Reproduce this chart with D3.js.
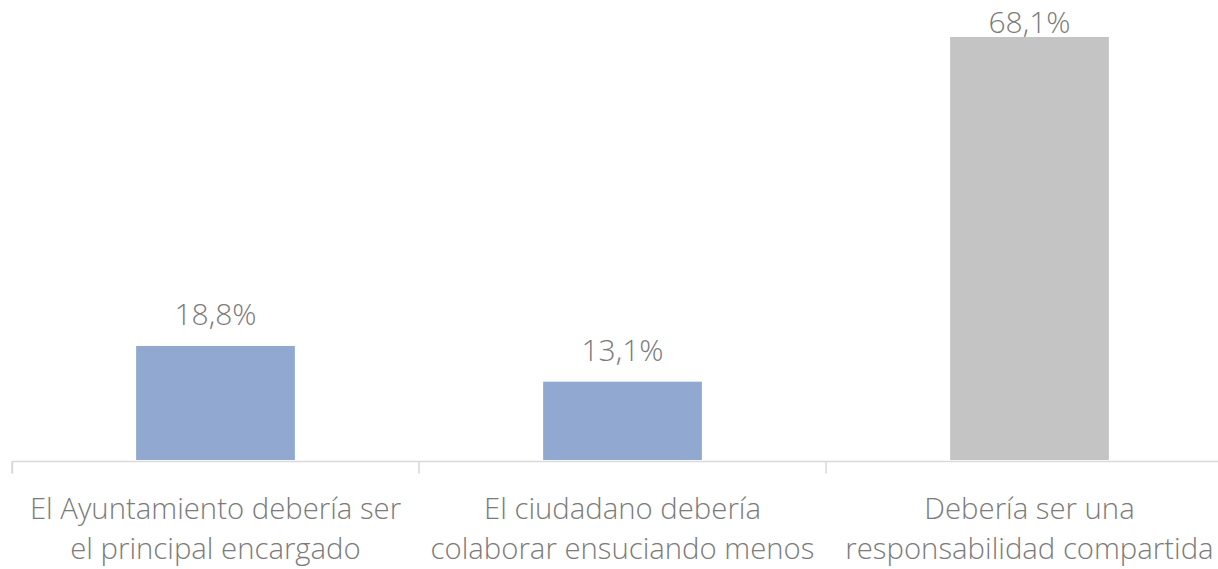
<!DOCTYPE html>
<html>
<head>
<meta charset="utf-8">
<script src="https://cdn.jsdelivr.net/npm/d3@7"></script>
<style>
  body { margin: 0; background: #fff; overflow: hidden; }
  text { font-family: "Open Sans", Lato, sans-serif; font-weight: 300; fill: #7b7b7b; }
</style>
</head>
<body>
<div id="chart"></div>
<script>
// data
var categories = [
  ["El Ayuntamiento debería ser", "el principal encargado"],
  ["El ciudadano debería", "colaborar ensuciando menos"],
  ["Debería ser una", "responsabilidad compartida"]
];
var values = [18.8, 13.1, 68.1];
var barColors = ["#91a8d0", "#91a8d0", "#c4c4c4"];

var width = 1218, height = 569;
var baseY = 460;

var svg = d3.select("#chart")
  .append("svg")
  .attr("width", width)
  .attr("height", height);

// the plot runs past the right edge of the picture, like the original
var x = d3.scaleBand()
  .domain(d3.range(categories.length))
  .range([12, 1233])
  .padding(0);

var y = d3.scaleLinear()
  .domain([0.6, 68.1])
  .range([baseY, 37]);

var barW = x.bandwidth() * 0.39;

// bars
svg.selectAll(".bar")
  .data(values)
  .enter().append("rect")
  .attr("class", "bar")
  .attr("x", (d, i) => x(i) + (x.bandwidth() - barW) / 2)
  .attr("y", d => y(d))
  .attr("width", barW)
  .attr("height", d => baseY - y(d))
  .attr("fill", (d, i) => barColors[i]);

// axis line + ticks
var axis = svg.append("g")
  .attr("transform", "translate(0," + 461.5 + ")")
  .call(d3.axisBottom(x).tickSize(12).tickFormat(""));
axis.select(".domain").attr("stroke", "#d9d9d9").attr("stroke-width", 1.5)
  .attr("d", "M12.5,12V0H1240");
axis.selectAll(".tick line").attr("stroke", "#d9d9d9").attr("stroke-width", 1.5)
  .attr("transform", "translate(" + (-x.bandwidth() / 2) + ",0)");

// value labels
svg.selectAll(".val")
  .data(values)
  .enter().append("text")
  .attr("class", "val")
  .attr("x", (d, i) => x(i) + x.bandwidth() / 2)
  .attr("y", d => Math.max(y(d) - 21, 33))
  .attr("text-anchor", "middle")
  .attr("font-size", "30px")
  .text(d => d.toFixed(1).replace(".", ",") + "%");

// category labels
var cat = svg.selectAll(".cat")
  .data(categories)
  .enter().append("text")
  .attr("class", "cat")
  .attr("text-anchor", "middle")
  .attr("font-size", "29.3px");

cat.selectAll("tspan")
  .data((d, i) => d.map(line => ({line: line, i: i})))
  .enter().append("tspan")
  .attr("x", d => x(d.i) + x.bandwidth() / 2)
  .attr("y", (d, j) => 519 + j * 40)
  .text(d => d.line);
</script>
</body>
</html>
